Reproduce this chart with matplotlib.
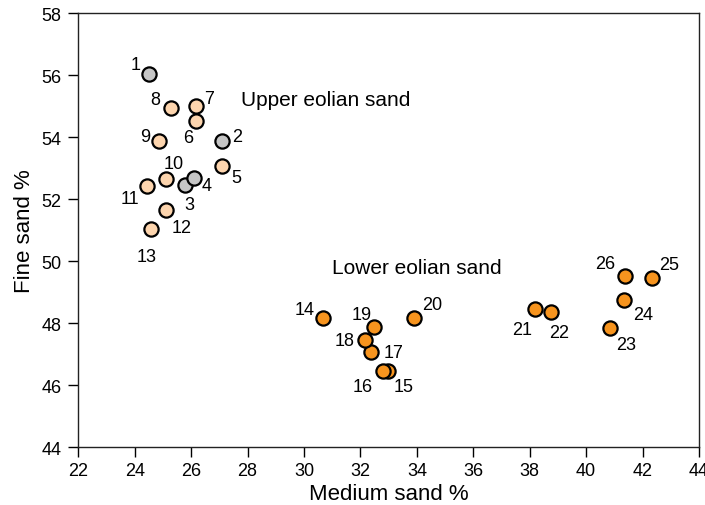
import matplotlib
matplotlib.use("Agg")
import matplotlib.pyplot as plt

plt.rcParams['font.family'] = ['Liberation Sans', 'DejaVu Sans']

labels = [str(i) for i in range(1, 27)]
medium = [24.52, 27.11, 25.78, 26.11, 27.11, 26.19, 26.19, 25.28, 24.87, 25.11,
          24.42, 25.11, 24.58, 30.66, 32.96, 32.80, 32.37, 32.16, 32.49, 33.89,
          38.18, 38.77, 40.84, 41.35, 42.35, 41.36]
fine = [56.03, 53.88, 52.45, 52.67, 53.05, 54.53, 54.99, 54.94, 53.88, 52.65,
        52.43, 51.66, 51.03, 48.15, 46.46, 46.46, 47.05, 47.45, 47.86, 48.16,
        48.45, 48.36, 47.84, 48.75, 49.44, 49.53]
group = ['g', 'g', 'g', 'g', 'p', 'p', 'p', 'p', 'p', 'p', 'p', 'p', 'p',
         'o', 'o', 'o', 'o', 'o', 'o', 'o', 'o', 'o', 'o', 'o', 'o', 'o']
group_colors = {'g': '#c6c6c6', 'p': '#fdd5ae', 'o': '#f7941e'}

# label offsets (pixels)
offsets = {
    '1': (-14, 10), '2': (15, 4), '3': (4, -19), '4': (12, -7), '5': (14, -11),
    '6': (-8, -17), '7': (13, 8), '8': (-16, 8), '9': (-14, 4), '10': (8, 15),
    '11': (-17, -13), '12': (16, -18), '13': (-4, -27), '14': (-18, 9),
    '15': (16, -16), '16': (-20, -16), '17': (23, 0), '18': (-20, 0),
    '19': (-13, 13), '20': (18, 14), '21': (-13, -20), '22': (8, -21),
    '23': (16, -17), '24': (19, -15), '25': (17, 14), '26': (-19, 12),
}

fig = plt.figure(figsize=(7.05, 5.06), dpi=100)
ax = fig.add_axes([0.111, 0.1146, 0.8805, 0.8577])

for i in range(len(labels)):
    ax.scatter(medium[i], fine[i], s=105, c=group_colors[group[i]],
               edgecolors='black', linewidths=1.6, zorder=3)
for i in range(len(labels)):
    dx, dy = offsets[labels[i]]
    ax.annotate(labels[i], (medium[i], fine[i]), xytext=(dx, dy),
                textcoords='offset pixels', ha='center', va='center',
                fontsize=13, color='black')

ax.text(27.76, 55.2, 'Upper eolian sand', fontsize=15, ha='left', va='center')
ax.text(30.99, 49.8, 'Lower eolian sand', fontsize=15, ha='left', va='center')

ax.set_xlim(22, 44)
ax.set_ylim(44, 58)
ax.set_xticks(range(22, 45, 2))
ax.set_yticks(range(44, 59, 2))
ax.tick_params(direction='out', length=7, width=1, labelsize=13, colors='black')
ax.tick_params(axis='y', pad=5)
for sp in ax.spines.values():
    sp.set_linewidth(1.0)
    sp.set_color('#222222')
ax.set_xlabel('Medium sand %', fontsize=16, labelpad=3)
ax.set_ylabel('Fine sand %', fontsize=16, labelpad=5)

fig.savefig('out.png', dpi=100)
